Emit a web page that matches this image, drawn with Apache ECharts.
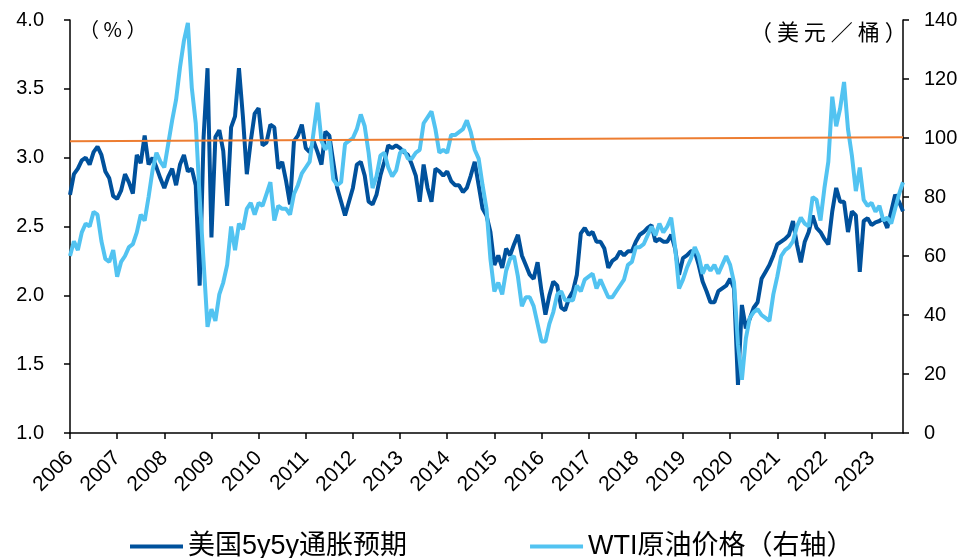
<!DOCTYPE html>
<html>
<head>
<meta charset="utf-8">
<script src="https://cdn.jsdelivr.net/npm/echarts@6/dist/echarts.min.js"></script>
<style>
  html, body { margin: 0; padding: 0; background: #fff; }
  #main { width: 964px; height: 558px; }
</style>
</head>
<body>
<div id="main"></div>
<script>
// monthly points, Jan 2006 - Sep 2023
var months = [];
for (var y = 2006; y <= 2023; y++) {
    for (var m = 1; m <= 12; m++) {
        if (y === 2023 && m > 9) break;
        months.push(y + '-' + (m < 10 ? '0' + m : m));
    }
}

// 美国5y5y通胀预期 (%)
var inflation = [
    2.73, 2.88, 2.92, 2.98, 3.00, 2.95, 3.04, 3.08, 3.02, 2.90, 2.85, 2.72, // 2006
    2.70, 2.76, 2.88, 2.82, 2.74, 3.02, 2.96, 3.16, 2.95, 3.00, 2.93, 2.85, // 2007
    2.78, 2.86, 2.92, 2.80, 2.95, 3.02, 2.90, 2.92, 2.80, 2.07, 3.15, 3.65, // 2008
    2.42, 3.15, 3.20, 3.05, 2.65, 3.22, 3.30, 3.65, 3.30, 2.88, 3.12, 3.32, // 2009
    3.36, 3.09, 3.11, 3.24, 3.22, 2.92, 2.97, 2.83, 2.66, 3.12, 3.16, 3.24, // 2010
    3.07, 3.04, 3.12, 3.04, 2.95, 3.19, 3.16, 2.97, 2.78, 2.68, 2.58, 2.68, // 2011
    2.78, 2.95, 2.97, 2.87, 2.68, 2.66, 2.73, 2.87, 2.97, 3.09, 3.07, 3.09, // 2012
    3.07, 3.04, 3.02, 2.95, 2.87, 2.68, 2.95, 2.78, 2.68, 2.92, 2.90, 2.87, // 2013
    2.90, 2.83, 2.80, 2.80, 2.75, 2.78, 2.87, 2.97, 2.80, 2.63, 2.58, 2.46, // 2014
    2.22, 2.29, 2.20, 2.34, 2.29, 2.37, 2.44, 2.29, 2.22, 2.15, 2.12, 2.24, // 2015
    2.03, 1.86, 2.00, 2.10, 2.07, 1.91, 1.89, 1.98, 2.03, 2.15, 2.45, 2.49, // 2016
    2.44, 2.46, 2.39, 2.39, 2.34, 2.20, 2.25, 2.27, 2.32, 2.29, 2.32, 2.32, // 2017
    2.39, 2.44, 2.46, 2.49, 2.51, 2.39, 2.41, 2.39, 2.39, 2.44, 2.34, 2.15, // 2018
    2.27, 2.29, 2.32, 2.32, 2.22, 2.10, 2.03, 1.95, 1.95, 2.03, 2.05, 2.07, // 2019
    2.12, 2.05, 1.35, 1.93, 1.76, 1.83, 1.91, 1.95, 2.12, 2.17, 2.22, 2.29, // 2020
    2.37, 2.39, 2.41, 2.44, 2.54, 2.37, 2.24, 2.39, 2.46, 2.58, 2.49, 2.46, // 2021
    2.41, 2.37, 2.61, 2.78, 2.68, 2.68, 2.46, 2.61, 2.58, 2.17, 2.54, 2.56, // 2022
    2.51, 2.53, 2.54, 2.56, 2.49, 2.61, 2.73, 2.68, 2.61                    // 2023
];

// WTI原油价格 (美元/桶)
var wti = [
    60, 65, 62, 68, 71, 70, 75, 74, 65, 59, 58, 62,          // 2006
    53, 58, 60, 63, 64, 68, 74, 72, 80, 89, 95, 92,          // 2007
    90, 98, 106, 113, 124, 133, 139, 117, 105, 80, 58, 36,   // 2008
    42, 38, 47, 51, 57, 70, 62, 71, 69, 76, 78, 74,          // 2009
    78, 77, 81, 85, 72, 77, 76, 76, 74, 81, 84, 88,          // 2010
    90, 92, 102, 112, 99, 96, 99, 86, 84, 85, 98, 99,        // 2011
    100, 103, 108, 104, 95, 83, 87, 94, 95, 90, 87, 89,      // 2012
    95, 96, 93, 93, 95, 96, 105, 107, 109, 103, 95, 96,      // 2013
    95, 101, 101, 102, 103, 106, 102, 96, 93, 84, 76, 59,    // 2014
    48, 51, 47, 55, 59, 60, 53, 43, 46, 46, 43, 37,          // 2015
    31, 31, 37, 41, 47, 48, 45, 45, 45, 50, 48, 52,          // 2016
    53, 54, 49, 52, 49, 46, 46, 48, 50, 52, 57, 58,          // 2017
    63, 63, 64, 67, 70, 67, 71, 68, 70, 73, 63, 49,          // 2018
    52, 56, 59, 63, 60, 54, 57, 55, 57, 54, 57, 60,          // 2019
    57, 51, 30, 18, 32, 39, 41, 42, 40, 39, 38, 47,          // 2020
    53, 60, 62, 63, 65, 70, 73, 71, 70, 80, 79, 72,          // 2021
    83, 92, 114, 104, 110, 119, 103, 94, 82, 90, 79, 77,     // 2022
    78, 75, 77, 72, 73, 71, 76, 81, 85                       // 2023
];

// orange reference line, start and end (left axis)
var trendLine = [3.12, 3.148];

var legendNames = ['美国5y5y通胀预期', 'WTI原油价格（右轴）'];

var baseFont = 'Arial, "Liberation Sans", "Noto Sans CJK SC", sans-serif';
var axisStyle = { color: '#000', width: 1.5 };

var myChart = echarts.init(document.getElementById('main'));

var option = {
    animation: false,
    backgroundColor: '#fff',
    textStyle: { fontFamily: baseFont },
    grid: {
        left: 70,
        right: 61,
        top: 20,
        bottom: 125
    },
    legend: {
        data: legendNames,
        left: 125,
        top: 528,
        icon: 'rect',
        itemWidth: 53,
        itemHeight: 4,
        itemGap: 123,
        textStyle: { fontSize: 27, color: '#000', fontFamily: baseFont }
    },
    graphic: [
        {
            type: 'text',
            left: 79,
            top: 19,
            style: { text: '（ % ）', fontSize: 20, fill: '#000', fontFamily: '"Noto Sans CJK SC"' }
        },
        {
            type: 'text',
            left: 750,
            top: 21,
            style: { text: '（ 美 元 ／ 桶 ）', fontSize: 22, fill: '#000', fontFamily: '"Noto Sans CJK SC"' }
        }
    ],
    xAxis: {
        type: 'category',
        data: months,
        boundaryGap: false,
        axisLine: { lineStyle: axisStyle },
        axisTick: { interval: 11, length: 6, lineStyle: axisStyle },
        axisLabel: {
            interval: 11,
            rotate: 45,
            margin: 22,
            fontSize: 21,
            color: '#000',
            formatter: function (v) { return v.slice(0, 4); }
        },
        splitLine: { show: false }
    },
    yAxis: [
        {
            type: 'value',
            min: 1,
            max: 4,
            interval: 0.5,
            axisLine: { show: true, lineStyle: axisStyle },
            axisTick: { show: true, length: 6, lineStyle: axisStyle },
            axisLabel: {
                margin: 26,
                fontSize: 20,
                color: '#000',
                formatter: function (v) { return v.toFixed(1); }
            },
            splitLine: { show: false }
        },
        {
            type: 'value',
            position: 'right',
            min: 0,
            max: 140,
            interval: 20,
            axisLine: { show: true, lineStyle: axisStyle },
            axisTick: { show: true, length: 6, lineStyle: axisStyle },
            axisLabel: { margin: 21, fontSize: 20, color: '#000' },
            splitLine: { show: false }
        }
    ],
    series: [
        {
            name: legendNames[0],
            type: 'line',
            yAxisIndex: 0,
            data: inflation,
            symbol: 'none',
            color: '#00519C',
            lineStyle: { width: 4, color: '#00519C' }
        },
        {
            name: legendNames[1],
            type: 'line',
            yAxisIndex: 1,
            data: wti,
            symbol: 'none',
            color: '#52C3F1',
            lineStyle: { width: 4, color: '#52C3F1' }
        },
        {
            name: 'trend',
            type: 'line',
            yAxisIndex: 0,
            z: 5,
            data: [[months[0], trendLine[0]], [months[months.length - 1], trendLine[1]]],
            symbol: 'none',
            lineStyle: { width: 2, color: '#ED7D31' }
        }
    ]
};

myChart.setOption(option);
</script>
</body>
</html>
